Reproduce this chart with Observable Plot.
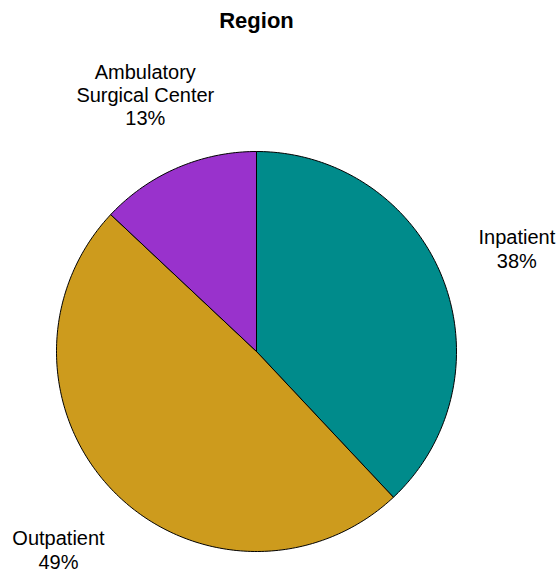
<!DOCTYPE html>
<html>
<head>
<meta charset="utf-8">
<script src="https://cdn.jsdelivr.net/npm/d3@7"></script>
<script src="https://cdn.jsdelivr.net/npm/@observablehq/plot@0.6"></script>
<style>
  html, body { margin: 0; padding: 0; background: #fff; }
  #chart svg { display: block; }
</style>
</head>
<body>
<div id="chart"></div>
<script>
const title = "Region";
const categories = ["Inpatient", "Outpatient", "Ambulatory Surgical Center"];
const labelLines = [["Inpatient"], ["Outpatient"], ["Ambulatory", "Surgical Center"]];
const shares = [38, 49, 13];
const colors = ["#008B8B", "#CD9B1D", "#9932CC"];

// Build slice outlines from the data (angles measured clockwise from 12 o'clock)
const total = d3.sum(shares);
const polys = [];
const labels = [];
let start = 0;
categories.forEach((c, i) => {
  const a0 = start / total * 2 * Math.PI;
  const a1 = (start + shares[i]) / total * 2 * Math.PI;
  const steps = Math.max(2, Math.ceil((a1 - a0) / (Math.PI / 180)));
  polys.push({cat: c, x: 0, y: 0});
  for (let k = 0; k <= steps; k++) {
    const a = a0 + (a1 - a0) * k / steps;
    polys.push({cat: c, x: Math.sin(a), y: Math.cos(a)});
  }
  polys.push({cat: c, x: 0, y: 0});
  const am = (a0 + a1) / 2;
  labels.push({cat: c, x: 1.4 * Math.sin(am), y: 1.4 * Math.cos(am),
    text: labelLines[i].concat([Math.round(shares[i] / total * 100) + "%"]).join("\n")});
  start += shares[i];
});

const chart = Plot.plot({
  width: 558,
  height: 573,
  marginLeft: 56,
  marginRight: 102,
  marginTop: 151,
  marginBottom: 22,
  x: {domain: [-1, 1], axis: null},
  y: {domain: [-1, 1], axis: null},
  color: {domain: categories, range: colors},
  style: {fontFamily: "Liberation Sans, Arial, sans-serif", background: "#fff", overflow: "visible"},
  marks: [
    Plot.line(polys, {x: "x", y: "y", z: "cat", fill: "cat", stroke: "#000", strokeWidth: 1, strokeLinejoin: "round"}),
    Plot.text(labels, {x: "x", y: "y", text: "text", fontSize: 20, fill: "#000", lineHeight: 1.17, textAnchor: "middle"}),
    Plot.text([title], {frameAnchor: "top", lineAnchor: "middle", dy: -131, text: d => d, fontSize: 22, fontWeight: "bold", fill: "#000"})
  ]
});
document.getElementById("chart").appendChild(chart);
</script>
</body>
</html>
